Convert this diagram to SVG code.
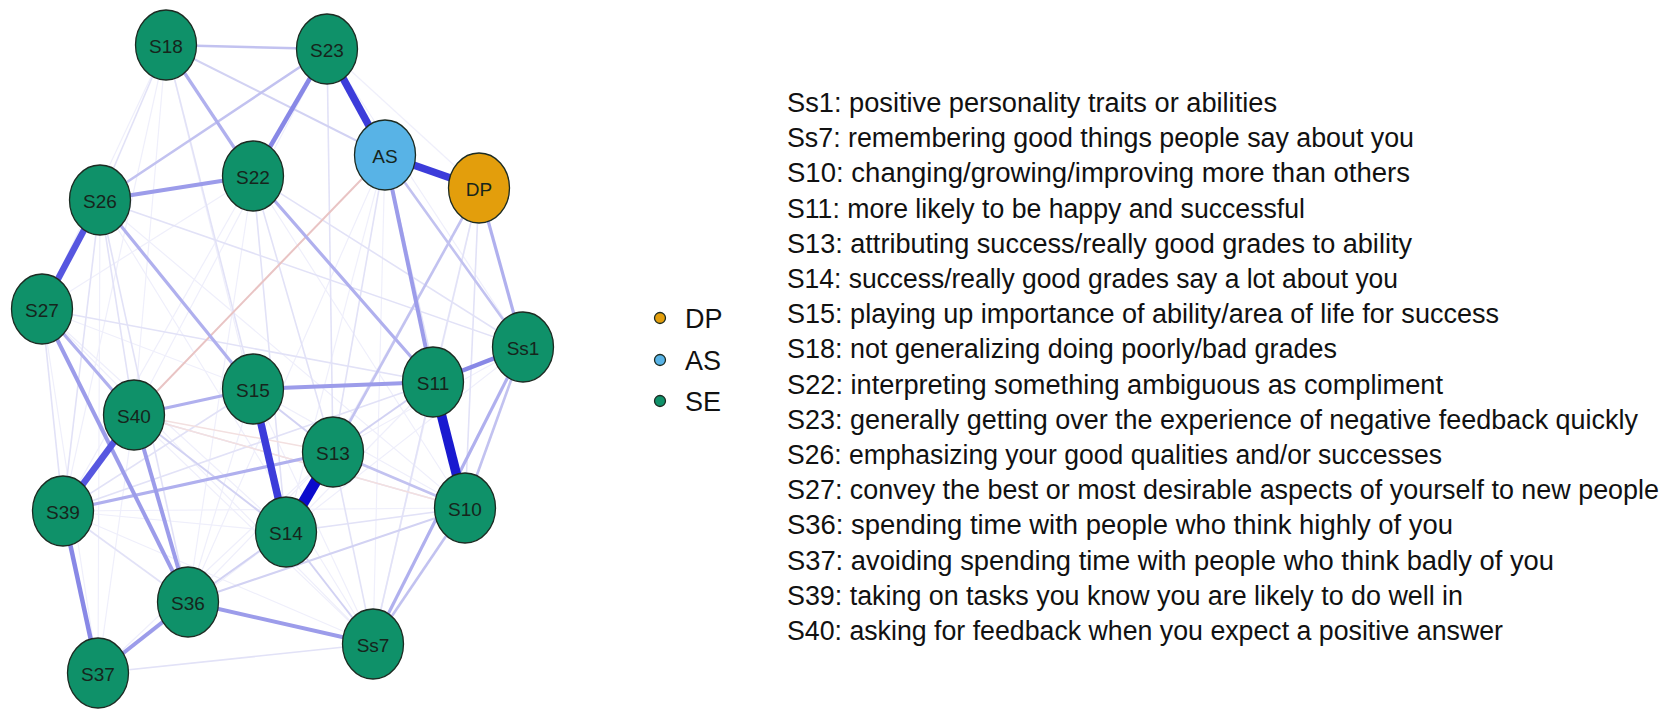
<svg xmlns="http://www.w3.org/2000/svg" width="1666" height="723" viewBox="0 0 1666 723">
<style>
.n{stroke:#1c2b22;stroke-width:1.3}
.se{fill:#0f9169}
.as{fill:#58b3e6}
.dp{fill:#e39e0c}
.lb{font-family:"Liberation Sans",Arial,sans-serif;font-size:19px;fill:#16251c;text-anchor:middle;dominant-baseline:central}
.lg{font-family:"Liberation Sans",Arial,sans-serif;font-size:27px;fill:#111}
.tx{font-family:"Liberation Sans",Arial,sans-serif;font-size:26.8px;fill:#111}
#edges line{stroke-linecap:butt;fill:none}
.f0{stroke:#efeffb;stroke-width:1.2}
.f1{stroke:#e2e2f7;stroke-width:1.6}
.f2{stroke:#d2d2f3;stroke-width:2}
.f3{stroke:#c2c2f0;stroke-width:2.6}
.m1{stroke:#b0b0ee;stroke-width:3.2}
.m2{stroke:#9c9cea;stroke-width:4}
.m3{stroke:#8888e6;stroke-width:4.5}
.s1{stroke:#5656e0;stroke-width:6.5}
.s2{stroke:#3c3cda;stroke-width:7.5}
.s3{stroke:#1a1ad0;stroke-width:9.5}
.s4{stroke:#0a0acc;stroke-width:11}
.r1{stroke:#e9c4c4;stroke-width:2}
.r0{stroke:#f3e0e0;stroke-width:1.4}
</style>
<rect width="1666" height="723" fill="#fff"/>
<g id="edges">
<line class="f0" x1="166" y1="45" x2="42" y2="309"/>
<line class="f0" x1="166" y1="45" x2="134" y2="415"/>
<line class="f0" x1="166" y1="45" x2="63" y2="511"/>
<line class="f0" x1="166" y1="45" x2="286" y2="532"/>
<line class="f0" x1="327" y1="49" x2="479" y2="188"/>
<line class="f0" x1="327" y1="49" x2="523" y2="347"/>
<line class="f0" x1="327" y1="49" x2="134" y2="415"/>
<line class="f0" x1="253" y1="176" x2="42" y2="309"/>
<line class="f0" x1="253" y1="176" x2="63" y2="511"/>
<line class="f0" x1="253" y1="176" x2="188" y2="602"/>
<line class="f0" x1="253" y1="176" x2="465" y2="508"/>
<line class="f0" x1="100" y1="200" x2="465" y2="508"/>
<line class="f0" x1="100" y1="200" x2="373" y2="644"/>
<line class="f0" x1="100" y1="200" x2="98" y2="673"/>
<line class="f0" x1="42" y1="309" x2="253" y2="389"/>
<line class="f0" x1="42" y1="309" x2="98" y2="673"/>
<line class="f0" x1="42" y1="309" x2="286" y2="532"/>
<line class="f0" x1="42" y1="309" x2="373" y2="644"/>
<line class="f0" x1="385" y1="155" x2="286" y2="532"/>
<line class="f0" x1="385" y1="155" x2="373" y2="644"/>
<line class="f0" x1="385" y1="155" x2="188" y2="602"/>
<line class="f0" x1="479" y1="188" x2="373" y2="644"/>
<line class="f0" x1="479" y1="188" x2="286" y2="532"/>
<line class="f0" x1="134" y1="415" x2="373" y2="644"/>
<line class="f0" x1="134" y1="415" x2="98" y2="673"/>
<line class="f0" x1="63" y1="511" x2="373" y2="644"/>
<line class="f0" x1="63" y1="511" x2="465" y2="508"/>
<line class="f0" x1="63" y1="511" x2="286" y2="532"/>
<line class="f0" x1="98" y1="673" x2="286" y2="532"/>
<line class="f0" x1="98" y1="673" x2="333" y2="452"/>
<line class="f0" x1="188" y1="602" x2="253" y2="389"/>
<line class="f0" x1="188" y1="602" x2="333" y2="452"/>
<line class="f0" x1="253" y1="389" x2="465" y2="508"/>
<line class="f0" x1="253" y1="389" x2="373" y2="644"/>
<line class="f0" x1="433" y1="382" x2="286" y2="532"/>
<line class="f0" x1="433" y1="382" x2="373" y2="644"/>
<line class="f0" x1="523" y1="347" x2="333" y2="452"/>
<line class="f0" x1="523" y1="347" x2="286" y2="532"/>
<line class="f1" x1="166" y1="45" x2="100" y2="200"/>
<line class="f1" x1="166" y1="45" x2="253" y2="389"/>
<line class="f1" x1="327" y1="49" x2="333" y2="452"/>
<line class="f1" x1="100" y1="200" x2="134" y2="415"/>
<line class="f1" x1="100" y1="200" x2="63" y2="511"/>
<line class="f1" x1="100" y1="200" x2="188" y2="602"/>
<line class="f1" x1="100" y1="200" x2="523" y2="347"/>
<line class="f1" x1="253" y1="176" x2="523" y2="347"/>
<line class="f1" x1="253" y1="176" x2="333" y2="452"/>
<line class="f1" x1="253" y1="176" x2="286" y2="532"/>
<line class="f1" x1="42" y1="309" x2="433" y2="382"/>
<line class="f1" x1="42" y1="309" x2="63" y2="511"/>
<line class="f1" x1="385" y1="155" x2="333" y2="452"/>
<line class="f1" x1="385" y1="155" x2="465" y2="508"/>
<line class="f1" x1="479" y1="188" x2="433" y2="382"/>
<line class="f1" x1="479" y1="188" x2="465" y2="508"/>
<line class="f1" x1="63" y1="511" x2="253" y2="389"/>
<line class="f1" x1="63" y1="511" x2="433" y2="382"/>
<line class="f1" x1="63" y1="511" x2="188" y2="602"/>
<line class="f1" x1="134" y1="415" x2="465" y2="508"/>
<line class="f1" x1="98" y1="673" x2="373" y2="644"/>
<line class="f1" x1="433" y1="382" x2="373" y2="644"/>
<line class="f1" x1="333" y1="452" x2="373" y2="644"/>
<line class="f1" x1="286" y1="532" x2="465" y2="508"/>
<line class="r0" x1="134" y1="415" x2="465" y2="508"/>
<line class="r1" x1="385" y1="155" x2="134" y2="415"/>
<line class="r0" x1="134" y1="415" x2="333" y2="452"/>
<line class="f2" x1="166" y1="45" x2="385" y2="155"/>
<line class="f2" x1="253" y1="389" x2="333" y2="452"/>
<line class="f2" x1="333" y1="452" x2="433" y2="382"/>
<line class="f2" x1="188" y1="602" x2="465" y2="508"/>
<line class="f2" x1="134" y1="415" x2="286" y2="532"/>
<line class="f2" x1="286" y1="532" x2="373" y2="644"/>
<line class="f2" x1="188" y1="602" x2="286" y2="532"/>
<line class="f3" x1="327" y1="49" x2="100" y2="200"/>
<line class="f3" x1="166" y1="45" x2="327" y2="49"/>
<line class="f3" x1="479" y1="188" x2="333" y2="452"/>
<line class="f3" x1="385" y1="155" x2="523" y2="347"/>
<line class="f3" x1="465" y1="508" x2="523" y2="347"/>
<line class="f3" x1="465" y1="508" x2="373" y2="644"/>
<line class="f3" x1="333" y1="452" x2="465" y2="508"/>
<line class="m1" x1="166" y1="45" x2="253" y2="176"/>
<line class="m1" x1="134" y1="415" x2="253" y2="389"/>
<line class="m1" x1="63" y1="511" x2="333" y2="452"/>
<line class="m1" x1="42" y1="309" x2="134" y2="415"/>
<line class="m1" x1="523" y1="347" x2="373" y2="644"/>
<line class="m1" x1="479" y1="188" x2="523" y2="347"/>
<line class="m1" x1="100" y1="200" x2="253" y2="389"/>
<line class="m1" x1="253" y1="176" x2="433" y2="382"/>
<line class="m2" x1="100" y1="200" x2="253" y2="176"/>
<line class="m2" x1="253" y1="389" x2="433" y2="382"/>
<line class="m2" x1="385" y1="155" x2="433" y2="382"/>
<line class="m2" x1="42" y1="309" x2="188" y2="602"/>
<line class="m2" x1="188" y1="602" x2="373" y2="644"/>
<line class="m2" x1="188" y1="602" x2="98" y2="673"/>
<line class="m2" x1="134" y1="415" x2="188" y2="602"/>
<line class="m3" x1="327" y1="49" x2="253" y2="176"/>
<line class="m3" x1="63" y1="511" x2="98" y2="673"/>
<line class="m3" x1="433" y1="382" x2="523" y2="347"/>
<line class="s1" x1="134" y1="415" x2="63" y2="511"/>
<line class="s1" x1="100" y1="200" x2="42" y2="309"/>
<line class="s2" x1="385" y1="155" x2="479" y2="188"/>
<line class="s2" x1="327" y1="49" x2="385" y2="155"/>
<line class="s2" x1="253" y1="389" x2="286" y2="532"/>
<line class="s3" x1="433" y1="382" x2="465" y2="508"/>
<line class="s4" x1="333" y1="452" x2="286" y2="532"/>
</g>
<g id="node-S18"><ellipse class="n se" cx="166" cy="45" rx="30.5" ry="35"/><text class="lb" x="166" y="46">S18</text></g>
<g id="node-S23"><ellipse class="n se" cx="327" cy="49" rx="30.5" ry="35"/><text class="lb" x="327" y="50">S23</text></g>
<g id="node-AS"><ellipse class="n as" cx="385" cy="155" rx="30.5" ry="35"/><text class="lb" x="385" y="156">AS</text></g>
<g id="node-DP"><ellipse class="n dp" cx="479" cy="188" rx="30.5" ry="35"/><text class="lb" x="479" y="189">DP</text></g>
<g id="node-S22"><ellipse class="n se" cx="253" cy="176" rx="30.5" ry="35"/><text class="lb" x="253" y="177">S22</text></g>
<g id="node-S26"><ellipse class="n se" cx="100" cy="200" rx="30.5" ry="35"/><text class="lb" x="100" y="201">S26</text></g>
<g id="node-S27"><ellipse class="n se" cx="42" cy="309" rx="30.5" ry="35"/><text class="lb" x="42" y="310">S27</text></g>
<g id="node-Ss1"><ellipse class="n se" cx="523" cy="347" rx="30.5" ry="35"/><text class="lb" x="523" y="348">Ss1</text></g>
<g id="node-S11"><ellipse class="n se" cx="433" cy="382" rx="30.5" ry="35"/><text class="lb" x="433" y="383">S11</text></g>
<g id="node-S15"><ellipse class="n se" cx="253" cy="389" rx="30.5" ry="35"/><text class="lb" x="253" y="390">S15</text></g>
<g id="node-S40"><ellipse class="n se" cx="134" cy="415" rx="30.5" ry="35"/><text class="lb" x="134" y="416">S40</text></g>
<g id="node-S13"><ellipse class="n se" cx="333" cy="452" rx="30.5" ry="35"/><text class="lb" x="333" y="453">S13</text></g>
<g id="node-S39"><ellipse class="n se" cx="63" cy="511" rx="30.5" ry="35"/><text class="lb" x="63" y="512">S39</text></g>
<g id="node-S10"><ellipse class="n se" cx="465" cy="508" rx="30.5" ry="35"/><text class="lb" x="465" y="509">S10</text></g>
<g id="node-S14"><ellipse class="n se" cx="286" cy="532" rx="30.5" ry="35"/><text class="lb" x="286" y="533">S14</text></g>
<g id="node-S36"><ellipse class="n se" cx="188" cy="602" rx="30.5" ry="35"/><text class="lb" x="188" y="603">S36</text></g>
<g id="node-Ss7"><ellipse class="n se" cx="373" cy="644" rx="30.5" ry="35"/><text class="lb" x="373" y="645">Ss7</text></g>
<g id="node-S37"><ellipse class="n se" cx="98" cy="673" rx="30.5" ry="35"/><text class="lb" x="98" y="674">S37</text></g>
<g id="legend">
<circle class="n dp" cx="660" cy="318" r="5.5"/><text class="lg" x="685" y="327.5">DP</text>
<circle class="n as" cx="660" cy="360" r="5.5"/><text class="lg" x="685" y="369.5">AS</text>
<circle class="n se" cx="660" cy="401" r="5.5"/><text class="lg" x="685" y="410.5">SE</text>
</g>
<g id="descriptions">
<text class="tx" x="787" y="112" textLength="490" lengthAdjust="spacingAndGlyphs">Ss1: positive personality traits or abilities</text>
<text class="tx" x="787" y="147.2" textLength="627" lengthAdjust="spacingAndGlyphs">Ss7: remembering good things people say about you</text>
<text class="tx" x="787" y="182.4" textLength="623" lengthAdjust="spacingAndGlyphs">S10: changing/growing/improving more than others</text>
<text class="tx" x="787" y="217.6" textLength="518" lengthAdjust="spacingAndGlyphs">S11: more likely to be happy and successful</text>
<text class="tx" x="787" y="252.8" textLength="625" lengthAdjust="spacingAndGlyphs">S13: attributing success/really good grades to ability</text>
<text class="tx" x="787" y="288" textLength="611" lengthAdjust="spacingAndGlyphs">S14: success/really good grades say a lot about you</text>
<text class="tx" x="787" y="323.2" textLength="712" lengthAdjust="spacingAndGlyphs">S15: playing up importance of ability/area of life for success</text>
<text class="tx" x="787" y="358.4" textLength="550" lengthAdjust="spacingAndGlyphs">S18: not generalizing doing poorly/bad grades</text>
<text class="tx" x="787" y="393.6" textLength="656" lengthAdjust="spacingAndGlyphs">S22: interpreting something ambiguous as compliment</text>
<text class="tx" x="787" y="428.8" textLength="851" lengthAdjust="spacingAndGlyphs">S23: generally getting over the experience of negative feedback quickly</text>
<text class="tx" x="787" y="464" textLength="655" lengthAdjust="spacingAndGlyphs">S26: emphasizing your good qualities and/or successes</text>
<text class="tx" x="787" y="499.2" textLength="872" lengthAdjust="spacingAndGlyphs">S27: convey the best or most desirable aspects of yourself to new people</text>
<text class="tx" x="787" y="534.4" textLength="666" lengthAdjust="spacingAndGlyphs">S36: spending time with people who think highly of you</text>
<text class="tx" x="787" y="569.6" textLength="767" lengthAdjust="spacingAndGlyphs">S37: avoiding spending time with people who think badly of you</text>
<text class="tx" x="787" y="604.8" textLength="676" lengthAdjust="spacingAndGlyphs">S39: taking on tasks you know you are likely to do well in</text>
<text class="tx" x="787" y="640" textLength="716" lengthAdjust="spacingAndGlyphs">S40: asking for feedback when you expect a positive answer</text>
</g>
</svg>
